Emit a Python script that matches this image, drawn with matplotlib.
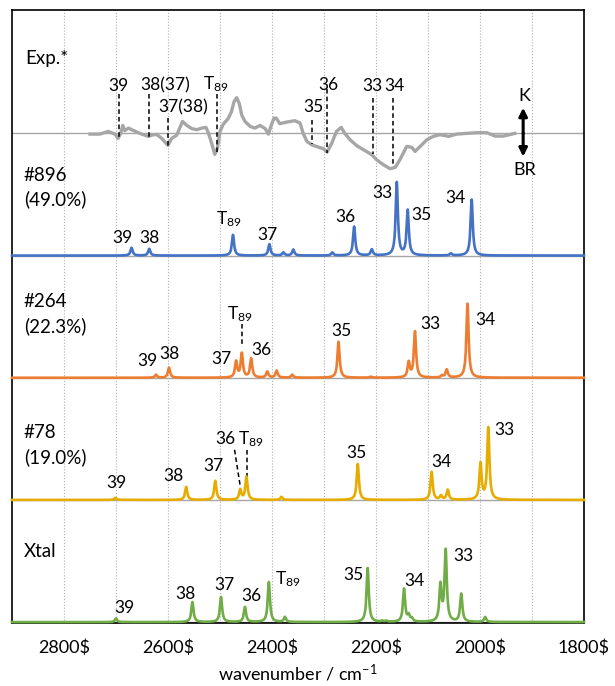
import numpy as np
import matplotlib.pyplot as plt

plt.rcParams['font.family'] = ['Lato', 'DejaVu Sans']
plt.rcParams['mathtext.fontset'] = 'custom'
plt.rcParams['mathtext.rm'] = 'Lato'
plt.rcParams['mathtext.it'] = 'Lato:italic'

T89 = r'$\mathregular{T_{89}}$'
PX = 122.2

# --- experimental difference spectrum (K - BR) ---
exp_wn = [2750, 2731, 2715, 2702, 2696, 2691, 2687, 2683, 2676, 2667, 2654, 2638,
          2631, 2622, 2612, 2600, 2593, 2583, 2577, 2572, 2564, 2554, 2545, 2535,
          2527, 2522, 2516, 2510, 2505, 2500, 2494, 2484, 2478, 2473, 2468, 2463,
          2458, 2452, 2442, 2433, 2423, 2413, 2407, 2401, 2396, 2392, 2385, 2372,
          2356, 2346, 2340, 2333, 2324, 2311, 2301, 2294, 2285, 2276, 2267, 2260,
          2250, 2237, 2221, 2208, 2199, 2186, 2173, 2163, 2154, 2141, 2131, 2125,
          2115, 2102, 2090, 2077, 2060, 2045, 2026, 2006, 1987, 1971, 1955, 1933]
exp_dA = [-0.7, -0.7, 2, -0.7, -5, 0, 8, 2.7, 5.3, 3, 0, -3,
          -1.7, -1, -5, -12, -5, -1.7, 6, 12, 8, 4.7, 3.7, 5.3,
          6, 0, -10, -21, -15, 2, 9, 15, 21.7, 31.7, 35.7, 30,
          18, 12, 7, 5.3, 8, 4.7, -0.7, 8.7, 15.3, 15.3, 9.7, 11.3,
          12.7, 10.3, 0, -8, -11.3, -13.7, -15.3, -18.7, -9.7, 2, 6, 0,
          -6.3, -12.3, -17.3, -21.3, -26.3, -31.3, -35.3, -34, -26.3, -13, -14, -18,
          -13, -6.3, -3, -1.3, -3, -0.7, 0, 0.7, 0.7, -2.7, -2.7, 0]

exp_marks = ['39', '38(37)', '37(38)', T89, '35', '36', '33', '34']
exp_mark_wn = [2694, 2636, 2600, 2506, 2324, 2294, 2206, 2167]

# --- calculated stick spectra (position, intensity) ---
c896_wn = [2670, 2636, 2475, 2405, 2378, 2359, 2284, 2242, 2208, 2160, 2139, 2056, 2016]
c896_I = [7.7, 6.7, 20.7, 11.3, 3, 6, 3, 29, 6, 73, 45, 2, 56]

c264_wn = [2623, 2598, 2469, 2458, 2440, 2409, 2391, 2361, 2272, 2210, 2137, 2125, 2073, 2064, 2024]
c264_I = [3, 10, 16, 24, 19, 6, 7, 3, 36, 1, 15, 46, 2, 8, 74]

c78_wn = [2701, 2565, 2509, 2461, 2449, 2382, 2235, 2093, 2075, 2062, 1999, 1984]
c78_I = [2, 13, 19, 10, 23, 3, 36, 28, 4, 10, 36, 72]

xtal_wn = [2700, 2553, 2498, 2452, 2406, 2375, 2216, 2188, 2180, 2146, 2137, 2131, 2076, 2066, 2036, 1990]
xtal_I = [3.6, 20, 25, 15, 40, 5, 54, 1, 1, 33, 6, 3, 36, 71, 28, 5]

names = ['Xtal', '#78\n(19.0%)', '#264\n(22.3%)', '#896\n(49.0%)']
colors = ['#70AD47', '#E6AC00', '#ED7D31', '#4472C4']

# peak labels: (text, wavenumber, height above own baseline in px)
lab896 = [('39', 2687, 18), ('38', 2636, 18), (T89, 2483, 36), ('37', 2409, 21),
          ('36', 2259, 39), ('33', 2188, 63), ('35', 2112, 41), ('34', 2048, 58)]
lab264 = [('39', 2640, 17), ('38', 2597, 24), ('37', 2498, 19), (T89, 2461, 64),
          ('36', 2421, 28), ('35', 2267, 47), ('33', 2096, 54), ('34', 1990, 58)]
lab78 = [('39', 2700, 17), ('38', 2589, 24), ('37', 2512, 34), ('36', 2489, 61),
         (T89, 2440, 61), ('35', 2237, 47), ('34', 2075, 38), ('33', 1953, 70)]
labx = [('39', 2683, 14), ('38', 2567, 28), ('37', 2491, 37), ('36', 2440, 26),
        (T89, 2369, 43), ('35', 2244, 47), ('34', 2126, 41), ('33', 2032, 66)]

gamma = 2.5
x = np.linspace(1800, 2900, 4401)


def spectrum(pos, inten):
    y = np.zeros_like(x)
    for p, a in zip(pos, inten):
        y += a * gamma**2 / ((x - p)**2 + gamma**2)
    return y / PX


fig = plt.figure(figsize=(6.15, 6.86), dpi=100)
ax = fig.add_axes([12/615, 1 - 622.7/686, 572/615, 612.7/686])

ax.set_xlim(2900, 1800)
ax.set_ylim(-0.005, 5.01)
ax.set_xticks(np.arange(1800, 2801, 200))
ax.set_xticklabels(['%d$' % v for v in np.arange(1800, 2801, 200)], fontsize=13)
ax.set_xticks(np.arange(1900, 2900, 200), minor=True)
ax.tick_params(which='both', length=0, pad=12)
ax.set_yticks([])
ax.grid(True, which='both', axis='x', color='#b0b0b0', ls=':', lw=0.8)
ax.set_axisbelow(True)
for s in ax.spines.values():
    s.set_linewidth(1.2)
ax.set_xlabel(r'wavenumber / cm$^{\mathregular{-1}}$', fontsize=13, labelpad=5)

for off in range(5):
    ax.axhline(off, color='#a6a6a6', lw=1, zorder=1)

# experimental
ax.plot(exp_wn, 4 + np.array(exp_dA) / PX, color='#a6a6a6', lw=2.4, zorder=3,
        solid_joinstyle='round')
ax.text(2874, 4.61, 'Exp.*', fontsize=13.5, ha='left', va='center')
tops = [4.32, 4.32, 4.13, 4.32, 4.11, 4.36, 4.29, 4.29]
bots = [3.96, 3.97, 3.90, 3.83, 3.91, 3.84, 3.83, 3.73]
lab_y = [4.39, 4.39, 4.21, 4.40, 4.22, 4.40, 4.39, 4.39]
lab_x = [2696, 2606, 2571, 2507, 2321, 2292, 2206, 2164]
for t, w, y0, y1, lx, ly in zip(exp_marks, exp_mark_wn, tops, bots, lab_x, lab_y):
    ax.plot([w, w], [y0, y1], color='k', ls='--', lw=1.1, dashes=(3, 2), zorder=4)
    ax.text(lx, ly, t, fontsize=12.5, ha='center', va='center')

arrow = dict(arrowstyle='-|>', lw=2.2, color='k', mutation_scale=12, shrinkA=0, shrinkB=0)
ax.annotate('', xy=(1917, 4.21), xytext=(1917, 4.0), arrowprops=arrow)
ax.annotate('', xy=(1917, 3.81), xytext=(1917, 4.0), arrowprops=arrow)
ax.text(1914, 4.31, 'K', fontsize=13, ha='center', va='center')
ax.text(1914, 3.70, 'BR', fontsize=13, ha='center', va='center')

# calculated
sets = [(xtal_wn, xtal_I, labx), (c78_wn, c78_I, lab78),
        (c264_wn, c264_I, lab264), (c896_wn, c896_I, lab896)]
name_y = [0.58, 1.45, 2.52, 3.555]
for off, ((pos, inten, labs), name, col) in enumerate(zip(sets, names, colors)):
    ax.plot(x, off + spectrum(pos, inten), color=col, lw=1.9, zorder=3, clip_on=False)
    ax.text(2877, name_y[off], name, fontsize=13.5, ha='left', va='center', linespacing=1.45)
    for t, w, h in labs:
        ax.text(w, off + h / PX, t, fontsize=12.5, ha='center', va='center')

# dashed leaders for crowded labels
ax.plot([2458, 2458], [2.44, 2.25], color='k', ls='--', lw=1.1, dashes=(3, 2))
ax.plot([2472, 2461], [1.41, 1.11], color='k', ls='--', lw=1.1, dashes=(3, 2))
ax.plot([2448, 2448], [1.41, 1.19], color='k', ls='--', lw=1.1, dashes=(3, 2))

fig.savefig('out.png', dpi=100)
